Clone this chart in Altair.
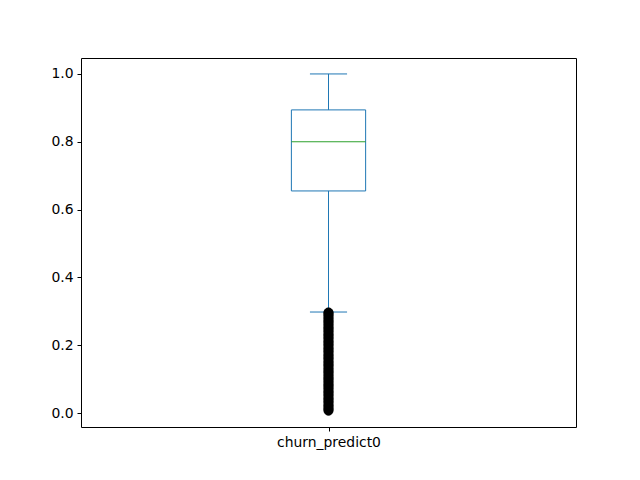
import pandas as pd
import altair as alt

# box summary
label = "churn_predict0"
q1 = 0.655
median = 0.80
q3 = 0.894
whisker_low = 0.298
whisker_high = 1.0

# outliers below the lower whisker (dense column of points)
outliers = [0.007, 0.010, 0.014, 0.018, 0.022, 0.026, 0.031, 0.035, 0.039, 0.043,
            0.047, 0.052, 0.056, 0.060, 0.064, 0.068, 0.073, 0.077, 0.081, 0.085,
            0.089, 0.094, 0.098, 0.102, 0.106, 0.110, 0.115, 0.119, 0.123, 0.127,
            0.131, 0.136, 0.140, 0.144, 0.148, 0.152, 0.157, 0.161, 0.165, 0.169,
            0.173, 0.178, 0.182, 0.186, 0.190, 0.194, 0.199, 0.203, 0.207, 0.211,
            0.215, 0.220, 0.224, 0.228, 0.232, 0.236, 0.241, 0.245, 0.249, 0.253,
            0.257, 0.262, 0.266, 0.270, 0.274, 0.278, 0.283, 0.287, 0.291, 0.295,
            0.297]

pos = 1.0
box = pd.DataFrame({"x": [pos - 0.075], "x2": [pos + 0.075], "q1": [q1], "q3": [q3], "med": [median]})
whisk = pd.DataFrame({"x": [pos, pos], "lo": [q3, whisker_low], "hi": [whisker_high, q1]})
caps = pd.DataFrame({"x": [pos - 0.0375] * 2, "x2": [pos + 0.0375] * 2, "y": [whisker_high, whisker_low]})
fl = pd.DataFrame({"x": [pos] * len(outliers), "y": outliers})

xscale = alt.Scale(domain=[0.5, 1.5], nice=False, zero=False)
yscale = alt.Scale(domain=[-0.041, 1.047], nice=False, zero=False)
xaxis = alt.Axis(values=[1], labelExpr="'" + label + "'", grid=False, title=None)
yaxis = alt.Axis(values=[0, 0.2, 0.4, 0.6, 0.8, 1.0], format=".1f", grid=False, title=None)

blue = "#1f77b4"

rect = alt.Chart(box).mark_rect(fill=None, stroke=blue, strokeWidth=1).encode(
    x=alt.X("x:Q", scale=xscale, axis=xaxis), x2="x2",
    y=alt.Y("q1:Q", scale=yscale, axis=yaxis), y2="q3")

med = alt.Chart(box).mark_rule(color="#2ca02c", strokeWidth=1.2).encode(
    x="x:Q", x2="x2", y="med:Q")

whiskers = alt.Chart(whisk).mark_rule(color=blue, strokeWidth=1).encode(
    x="x:Q", y="lo:Q", y2="hi")

cap = alt.Chart(caps).mark_rule(color=blue, strokeWidth=1).encode(
    x="x:Q", x2="x2", y="y:Q")

fliers = alt.Chart(fl).mark_point(shape="circle", filled=True, color="black", size=80, opacity=1,
                                  stroke="black", strokeWidth=1).encode(
    x="x:Q", y="y:Q")

chart = alt.layer(whiskers, cap, rect, med, fliers).properties(
    width=495, height=369,
    autosize=alt.AutoSizeParams(type="none"),
    padding={"left": 73, "top": 50, "right": 56, "bottom": 45},
    background="white"
).configure_view(stroke="black", strokeWidth=1).configure_axis(
    domain=False, tickColor="black", tickSize=4, labelColor="black",
    labelFont="DejaVu Sans", labelFontSize=13.9, labelPadding=4
)

chart.save("out.html", embed_options={"renderer": "svg", "actions": False})
